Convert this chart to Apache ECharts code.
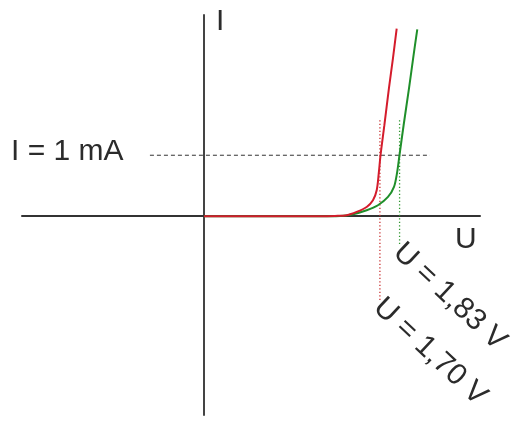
<!DOCTYPE html>
<html>
<head>
<meta charset="utf-8">
<script src="https://cdn.jsdelivr.net/npm/echarts@6/dist/echarts.min.js"></script>
<style>
  html, body { margin: 0; padding: 0; background: #fff; }
  #chart { width: 519px; height: 421px; }
</style>
</head>
<body>
<div id="chart"></div>
<script>
// U in volt, I in mA (sketch, not to scale)
var redU = [0, 1.121, 1.266, 1.379, 1.475, 1.572, 1.633, 1.669, 1.689, 1.706, 1.743, 1.787, 1.826, 1.862];
var redI = [0, 0, 0.005, 0.016, 0.070, 0.152, 0.262, 0.426, 0.705, 1.0, 1.492, 2.098, 2.590, 3.077];
var greenU = [0, 1.217, 1.314, 1.440, 1.572, 1.681, 1.778, 1.836, 1.865, 1.889, 1.929, 1.981, 2.021, 2.061];
var greenI = [0, 0, 0.003, 0.033, 0.098, 0.180, 0.316, 0.480, 0.705, 1.0, 1.492, 2.098, 2.590, 3.066];

var refI = 1;              // I = 1 mA
var refLineU = [-0.522, 2.184];
var redKnee = {u: 1.70, top: 1.574, bottom: -1.377, label: 'U = 1,70 V'};
var greenKnee = {u: 1.89, top: 1.574, bottom: -0.475, label: 'U = 1,83 V'};

var FONT = '"Liberation Sans", Arial, sans-serif';
var TXT = '#2b2b2b';

function pairs(xs, ys) {
    return xs.map(function (x, i) { return [x, ys[i]]; });
}

var myChart = echarts.init(document.getElementById('chart'));
myChart.setOption({
    animation: false,
    grid: {left: 22, right: 39, top: 15, bottom: 6},
    xAxis: {
        type: 'value',
        min: -1.758,
        max: 2.667,
        axisLine: {onZero: true, lineStyle: {color: '#333', width: 2}},
        axisTick: {show: false},
        axisLabel: {show: false},
        splitLine: {show: false}
    },
    yAxis: {
        type: 'value',
        min: -3.26,
        max: 3.30,
        axisLine: {onZero: true, lineStyle: {color: '#444', width: 2}},
        axisTick: {show: false},
        axisLabel: {show: false},
        splitLine: {show: false}
    },
    series: [
        {
            type: 'line',
            data: [[refLineU[0], refI], [refLineU[1], refI]],
            symbol: 'none',
            lineStyle: {color: '#333', width: 1, type: [4, 3]},
            z: 1
        },
        {
            type: 'line',
            data: [[redKnee.u, redKnee.top], [redKnee.u, redKnee.bottom]],
            symbol: 'none',
            lineStyle: {color: '#c83030', width: 1.3, type: [1.3, 2.2]},
            z: 1
        },
        {
            type: 'line',
            data: [[greenKnee.u, greenKnee.top], [greenKnee.u, greenKnee.bottom]],
            symbol: 'none',
            lineStyle: {color: '#2e962e', width: 1.3, type: [1.3, 2.2]},
            z: 1
        },
        {
            type: 'line',
            data: pairs(greenU, greenI),
            symbol: 'none',
            smooth: 0.3,
            lineStyle: {color: '#1f8f2a', width: 2},
            z: 3
        },
        {
            type: 'line',
            data: pairs(redU, redI),
            symbol: 'none',
            smooth: 0.3,
            lineStyle: {color: '#d41c2c', width: 2},
            z: 3
        }
    ]
});

// rotated voltage labels start where the dotted lines end
var deg = -43 * Math.PI / 180;
function kneeLabel(k) {
    var p = myChart.convertToPixel({gridIndex: 0}, [k.u, k.bottom]);
    return {
        type: 'text',
        x: p[0] - 2,
        y: p[1] + 3,
        rotation: deg,
        style: {text: k.label, fill: TXT, font: '30px ' + FONT, textVerticalAlign: 'middle', textAlign: 'left'}
    };
}

myChart.setOption({
    graphic: [
        {type: 'text', x: 216, y: 22, style: {text: 'I', fill: TXT, font: '30px ' + FONT, textVerticalAlign: 'middle'}},
        {type: 'text', x: 455, y: 240, style: {text: 'U', fill: TXT, font: '30px ' + FONT, textVerticalAlign: 'middle'}},
        {type: 'text', x: 11, y: 152, style: {text: 'I = 1 mA', fill: TXT, font: '30px ' + FONT, textVerticalAlign: 'middle'}},
        kneeLabel(greenKnee),
        kneeLabel(redKnee)
    ]
});
</script>
</body>
</html>
